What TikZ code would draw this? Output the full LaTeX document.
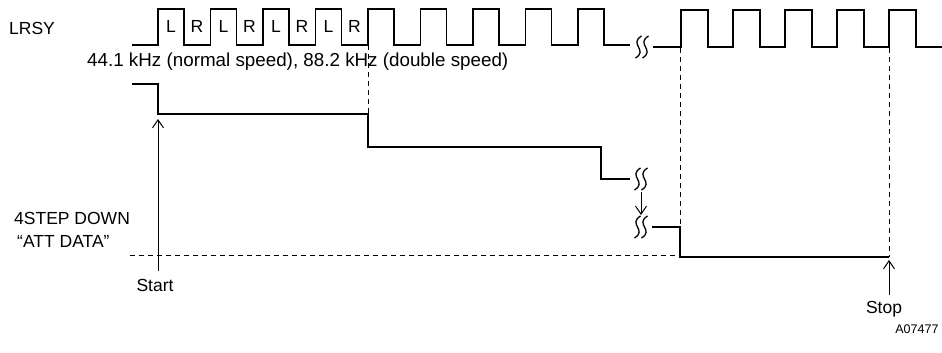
\documentclass[tikz,border=0pt]{standalone}
\usepackage{fontspec}
\setmainfont{Liberation Sans}
\usetikzlibrary{arrows.meta,positioning}

\begin{document}
\begin{tikzpicture}[x=1pt,y=-1pt]
\tikzstyle{wave}=[line width=1.8pt,line join=miter]
\tikzstyle{guide}=[line width=0.8pt,dash pattern=on 5pt off 4pt]
\tikzstyle{pointer}=[line width=1pt,-{Straight Barb[length=8pt,width=11pt,line width=1pt]}]
\tikzstyle{lbl}=[font=\fontsize{17.5}{20}\selectfont,inner sep=0pt]
\newcommand{\wavybreak}[1]{%
\begin{scope}[shift={(#1)},line width=1.3pt]
\foreach \d in {-3.5,3.5}
	\draw (\d+3,-11) .. controls (\d-10,-3) and (\d+10,3) .. (\d-3,11);
\end{scope}}

\useasboundingbox (0,0) rectangle (942,353);

% LRSY clock
\draw[wave] (132,45) \foreach \x in {158,210.5,...,578} {
	-- (\x,45) -- (\x,9) -- (\x+26,9) -- (\x+26,45)
} -- (630,45);
\draw[wave] (653,47) \foreach \x in {681,733,...,889} {
	-- (\x,47) -- (\x,10) -- (\x+27,10) -- (\x+27,47)
} -- (942,47);
\foreach \i in {0,...,3} {
	\node[lbl] at (171+52.5*\i,26) {L}; %left word
	\node[lbl] at (197+52.5*\i,26) {R}; %right word
}
\wavybreak{642,47}

% attenuation steps
\draw[wave] (132,84) -- (158,84) -- (158,114) coordinate (s0) -- (368,114) coordinate (s1)
	-- (368,147) -- (601,147) -- (601,179) -- (630,179);
\draw[wave] (652,227) -- (680,227) coordinate (s2) -- (680,257) -- (889,257) coordinate (s3);
\wavybreak{641,179}
\wavybreak{641,227}
\coordinate (b0) at (641,192);
\coordinate (b1) at (641,215);
\draw[pointer] (b0) -- (b1);

% timing guides
\draw[guide] (368,45) -- (s1);
\draw[guide] (680,48) -- (s2);
\draw[guide] (889,48) -- (s3);
\draw[guide] (130,255) -- (680,255);

% labels
\node[lbl] (lrsy) at (32,28) {LRSY};
\node[lbl,font=\fontsize{18.8}{21}\selectfont,anchor=west] (rate) at (87,62) {44.1 kHz (normal speed), 88.2 kHz (double speed)};
\node[lbl,anchor=west] (step) at (14,218) {4STEP DOWN};
\node[lbl,anchor=west] (att) at (17,241) {“ATT DATA”};
\node[lbl] (start) at (155,285) {Start};
\node[lbl] (stop) at (884,309) {Stop};
\node[font=\fontsize{12.5}{14}\selectfont,anchor=east] (code) at (942,329) {A07477};
\draw[pointer] (start.north -| s0) ++(0,-8) -- ([yshift=-5pt]s0);
\draw[pointer] (stop.north -| s3) ++(0,-6) -- ([yshift=-3pt]s3);
\end{tikzpicture}
\end{document}
